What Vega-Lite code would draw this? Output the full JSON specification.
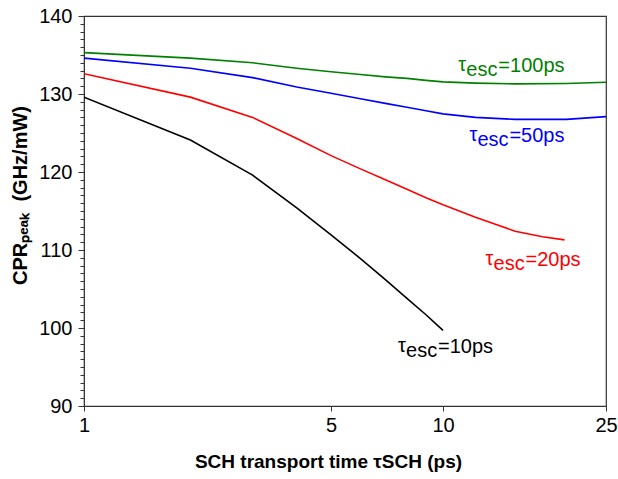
{
  "$schema": "https://vega.github.io/schema/vega-lite/v6.json",
  "width": 522,
  "height": 390,
  "autosize": "none",
  "padding": {"left": 84, "top": 16, "right": 12, "bottom": 73},
  "background": "white",
  "config": {
    "font": "Liberation Sans",
    "view": {"stroke": "#333", "strokeWidth": 1.2},
    "axis": {"grid": false, "labelFont": "Liberation Sans", "titleFont": "Liberation Sans", "labelColor": "#000", "titleColor": "#000"}
  },
  "datasets": {
    "curves": [
      {"esc": "10ps", "tau": 1, "cpr": 129.6},
      {"esc": "10ps", "tau": 2, "cpr": 124.1},
      {"esc": "10ps", "tau": 3, "cpr": 119.6},
      {"esc": "10ps", "tau": 4, "cpr": 115.4},
      {"esc": "10ps", "tau": 5, "cpr": 111.95},
      {"esc": "10ps", "tau": 6, "cpr": 108.9},
      {"esc": "10ps", "tau": 7, "cpr": 106.2},
      {"esc": "10ps", "tau": 8, "cpr": 103.8},
      {"esc": "10ps", "tau": 9, "cpr": 101.7},
      {"esc": "10ps", "tau": 10, "cpr": 99.7},
      {"esc": "20ps", "tau": 1, "cpr": 132.6},
      {"esc": "20ps", "tau": 2, "cpr": 129.6},
      {"esc": "20ps", "tau": 3, "cpr": 127.0},
      {"esc": "20ps", "tau": 4, "cpr": 124.3},
      {"esc": "20ps", "tau": 5, "cpr": 122.1},
      {"esc": "20ps", "tau": 6, "cpr": 120.4},
      {"esc": "20ps", "tau": 7, "cpr": 119.0},
      {"esc": "20ps", "tau": 8, "cpr": 117.8},
      {"esc": "20ps", "tau": 9, "cpr": 116.7},
      {"esc": "20ps", "tau": 10, "cpr": 115.8},
      {"esc": "20ps", "tau": 12, "cpr": 114.2},
      {"esc": "20ps", "tau": 15, "cpr": 112.4},
      {"esc": "20ps", "tau": 17.5, "cpr": 111.7},
      {"esc": "20ps", "tau": 19.8, "cpr": 111.3},
      {"esc": "50ps", "tau": 1, "cpr": 134.6},
      {"esc": "50ps", "tau": 2, "cpr": 133.3},
      {"esc": "50ps", "tau": 3, "cpr": 132.1},
      {"esc": "50ps", "tau": 4, "cpr": 130.9},
      {"esc": "50ps", "tau": 5, "cpr": 130.1},
      {"esc": "50ps", "tau": 6, "cpr": 129.4},
      {"esc": "50ps", "tau": 7, "cpr": 128.8},
      {"esc": "50ps", "tau": 8, "cpr": 128.3},
      {"esc": "50ps", "tau": 9, "cpr": 127.85},
      {"esc": "50ps", "tau": 10, "cpr": 127.45},
      {"esc": "50ps", "tau": 12, "cpr": 127.0},
      {"esc": "50ps", "tau": 15, "cpr": 126.75},
      {"esc": "50ps", "tau": 20, "cpr": 126.75},
      {"esc": "50ps", "tau": 25, "cpr": 127.1},
      {"esc": "100ps", "tau": 1, "cpr": 135.3},
      {"esc": "100ps", "tau": 2, "cpr": 134.6},
      {"esc": "100ps", "tau": 3, "cpr": 134.0},
      {"esc": "100ps", "tau": 4, "cpr": 133.3},
      {"esc": "100ps", "tau": 5, "cpr": 132.85},
      {"esc": "100ps", "tau": 6, "cpr": 132.5},
      {"esc": "100ps", "tau": 7, "cpr": 132.2},
      {"esc": "100ps", "tau": 8, "cpr": 132.0},
      {"esc": "100ps", "tau": 9, "cpr": 131.75},
      {"esc": "100ps", "tau": 10, "cpr": 131.55},
      {"esc": "100ps", "tau": 12, "cpr": 131.4},
      {"esc": "100ps", "tau": 15, "cpr": 131.3},
      {"esc": "100ps", "tau": 20, "cpr": 131.35},
      {"esc": "100ps", "tau": 25, "cpr": 131.5}
    ],
    "labels": [
      {"esc": "10ps", "lx": 7.57, "ly": 96.8, "pre": "τ", "sub": "esc", "post": "=10ps"},
      {"esc": "20ps", "lx": 12.7, "ly": 107.95, "pre": "τ", "sub": "esc", "post": "=20ps"},
      {"esc": "50ps", "lx": 11.6, "ly": 123.9, "pre": "τ", "sub": "esc", "post": "=50ps"},
      {"esc": "100ps", "lx": 10.9, "ly": 132.8, "pre": "τ", "sub": "esc", "post": "=100ps"}
    ]
  },
  "encoding": {
    "x": {
      "type": "quantitative",
      "scale": {"type": "log", "domain": [1, 5, 10, 25], "range": [0, 247, 359, 522], "nice": false},
      "axis": {
        "title": "SCH transport time τSCH (ps)",
        "values": [1, 5, 10, 25],
        "format": "d",
        "labelFontSize": 20, "labelFlush": false, "labelOverlap": false,
        "tickSize": 5, "tickColor": "#333", "domainColor": "#333",
        "labelPadding": 4,
        "titleFontSize": 19, "titleFontWeight": "bold",
        "titleX": 244, "titleY": 55, "titleBaseline": "middle", "titleAnchor": "middle", "titleAlign": "center"
      }
    },
    "y": {
      "type": "quantitative",
      "scale": {"domain": [90, 140], "nice": false, "zero": false},
      "axis": {
        "title": "CPRₚₑₐₖ\u00a0 (GHz/mW)",
        "values": [90,91,92,93,94,95,96,97,98,99,100,101,102,103,104,105,106,107,108,109,110,111,112,113,114,115,116,117,118,119,120,121,122,123,124,125,126,127,128,129,130,131,132,133,134,135,136,137,138,139,140],
        "labelExpr": "datum.value % 10 === 0 ? datum.label : ''",
        "labelOverlap": false,
        "labelFontSize": 20, "labelPadding": 6,
        "tickSize": {"condition": {"test": "datum.value % 10 === 0", "value": 6}, "value": 4},
        "tickColor": "#333", "domainColor": "#333",
        "titleFontSize": 20, "titleFontWeight": "bold",
        "titleX": -64, "titleY": 179, "titleBaseline": "middle", "titleAlign": "center", "titleAngle": -90
      }
    },
    "color": {
      "field": "esc", "type": "nominal",
      "scale": {"domain": ["10ps", "20ps", "50ps", "100ps"], "range": ["#000000", "#ff0000", "#0000ff", "#008000"]},
      "legend": null
    }
  },
  "layer": [
    {
      "data": {"name": "curves"},
      "mark": {"type": "line", "strokeWidth": 1.6, "clip": true},
      "encoding": {
        "x": {"field": "tau"},
        "y": {"field": "cpr"}
      }
    },
    {
      "data": {"name": "labels"},
      "mark": {"type": "text", "align": "left", "baseline": "alphabetic", "fontSize": 20, "dy": -1},
      "encoding": {
        "x": {"field": "lx"},
        "y": {"field": "ly"},
        "text": {"field": "pre"}
      }
    },
    {
      "data": {"name": "labels"},
      "mark": {"type": "text", "align": "left", "baseline": "alphabetic", "fontSize": 20, "dx": 8, "dy": 4},
      "encoding": {
        "x": {"field": "lx"},
        "y": {"field": "ly"},
        "text": {"field": "sub"}
      }
    },
    {
      "data": {"name": "labels"},
      "mark": {"type": "text", "align": "left", "baseline": "alphabetic", "fontSize": 20, "dx": 40},
      "encoding": {
        "x": {"field": "lx"},
        "y": {"field": "ly"},
        "text": {"field": "post"}
      }
    }
  ]
}
